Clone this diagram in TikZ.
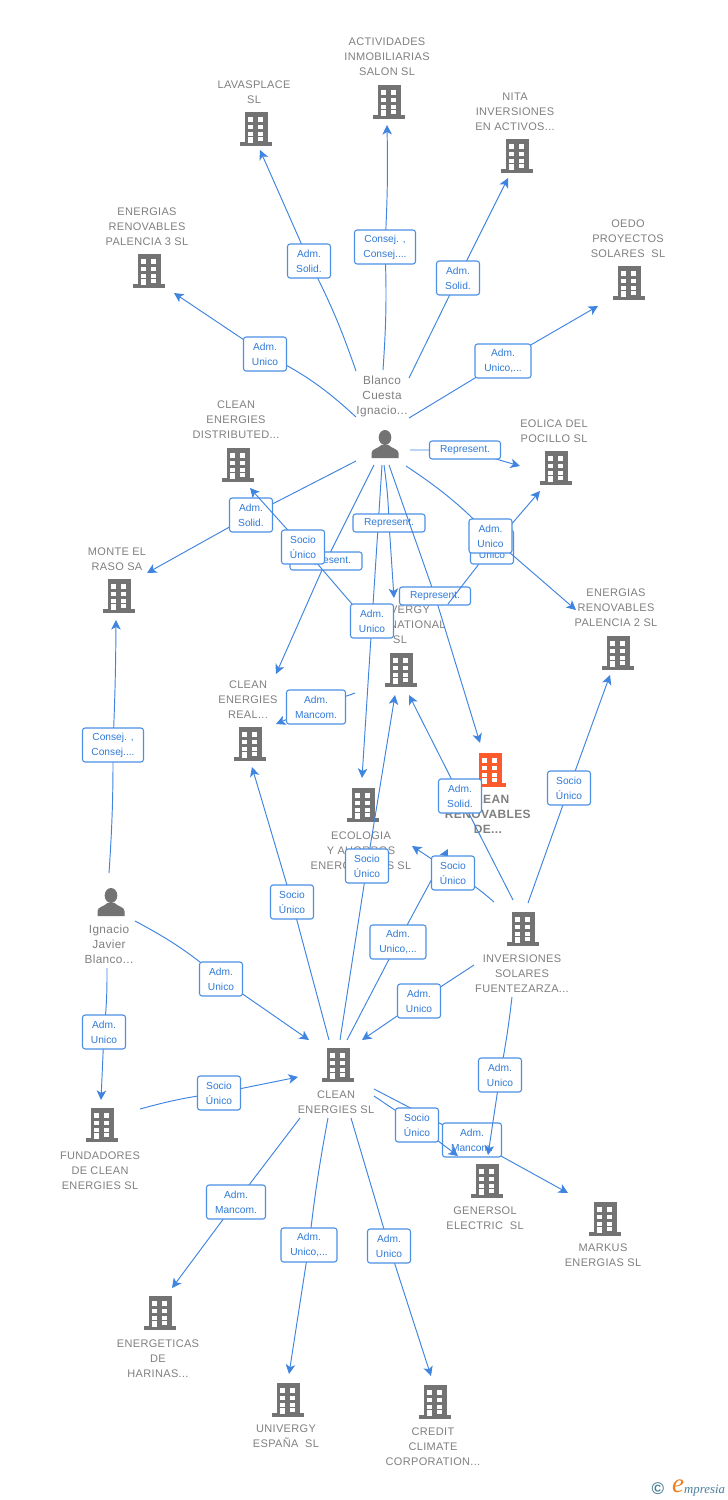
\documentclass[tikz,border=0pt]{standalone}
\usepackage{fontspec}
\setmainfont{Liberation Sans}
\newfontfamily\entfam[LetterSpace=3]{Liberation Sans}
\newfontfamily\logofam{Liberation Serif}
\usetikzlibrary{arrows.meta,calc}
\definecolor{entgray}{HTML}{808080}
\definecolor{icongray}{HTML}{737373}
\definecolor{mainred}{HTML}{FF5A2B}
\definecolor{linkblue}{HTML}{3F85E0}
\definecolor{labborder}{HTML}{4C90E6}
\definecolor{labtext}{HTML}{2F7AD8}
\definecolor{logoteal}{HTML}{4A7F9A}
\definecolor{logoorange}{HTML}{F07F1E}
\tikzset{
  conn/.style={draw=linkblue,line width=0.95pt,-{Stealth[length=9.5pt,width=9.5pt,inset=2.5pt]}},
  lab/.style={draw=labborder,fill=white,line width=1.1pt,rounded corners=2.6pt,text=labtext,inner sep=0pt,
    align=center,minimum width=43pt,minimum height=34pt,font=\fontsize{10.2}{15}\selectfont},
  labone/.style={minimum width=71pt,minimum height=18pt},
  labmid/.style={minimum width=56pt},
  labwide/.style={minimum width=61pt},
  labman/.style={minimum width=59pt},
  enttext/.style={align=center,inner sep=0pt,text=entgray,font=\entfam\fontsize{11}{15}\selectfont},
  hub/.style={inner sep=0pt,minimum size=30pt}
}
\newcommand{\mkbuilding}[5][icongray]{% colour, name, icon pos, text pos, text
  \node[hub] (#2) at (#3) {};
  \begin{scope}[shift={(#2.center)}]
    \fill[#1] (-11.5,-16.7) rectangle (11.5,14);
    \fill[#1] (-16,13) rectangle (16,16.7);
    \foreach \yy in {-11.7,-4.3,2.7}{
      \fill[white] (-7.7,\yy) rectangle +(4.7,4.3);
      \fill[white] (2.2,\yy) rectangle +(4.7,4.3);
    }
    \fill[white] (-7.7,8.2) rectangle (-3,14);
    \fill[white] (2.2,8.2) rectangle (6.9,12);
  \end{scope}
  \node[enttext] (#2T) at (#4) {#5};
}
\newcommand{\mkperson}[4]{% name, icon pos, text pos, text
  \node[hub] (#1) at (#2) {};
  \begin{scope}[shift={(#1.center)}]
    \fill[icongray] (0,-6.5) ellipse (6.3 and 7.5);
    \fill[icongray] (-13.5,14) -- (-13.5,9) .. controls (-13.5,5) and (-7,4.5) .. (-3.5,1) -- (3.5,1)
      .. controls (7,4.5) and (13.5,5) .. (13.5,9) -- (13.5,14) -- cycle;
  \end{scope}
  \node[enttext,font=\entfam\fontsize{11.8}{15}\selectfont] (#1T) at (#3) {#4};
}
% name, label position, label text, label style, start, end, first-segment options, second-segment options
\newcommand{\relbox}[8]{%
  \coordinate (#1c) at (#2);
  \draw[conn] #5 to[#7] (#1c) to[#8] #6;
  \node[lab,#4] (#1) at (#1c) {#3};
}
\begin{document}
\begin{tikzpicture}[x=1pt,y=-1pt]
\useasboundingbox (0,0) rectangle (728,1500);
\fill[white] (0,0) rectangle (728,1500);

\mkbuilding{act}{389,102}{387,57}{ACTIVIDADES\\INMOBILIARIAS\\SALON SL}
\mkbuilding{lav}{256,129}{254,92}{LAVASPLACE\\SL}
\mkbuilding{nit}{517,156}{515,112}{NITA\\INVERSIONES\\EN ACTIVOS...}
\mkbuilding{pt}{149,271}{147,227}{ENERGIAS\\RENOVABLES\\PALENCIA 3 SL}
\mkbuilding{oed}{629,283}{628,239}{OEDO\\PROYECTOS\\SOLARES\ \ SL}
\mkperson{bl}{385,444}{382,396}{Blanco\\Cuesta\\Ignacio...}
\mkbuilding{dis}{238,465}{236,420}{CLEAN\\ENERGIES\\DISTRIBUTED...}
\mkbuilding{eol}{556,468}{554,431}{EOLICA DEL\\POCILLO SL}
\mkbuilding{mon}{119,596}{117,559}{MONTE EL\\RASO SA}
\mkbuilding{uni}{401,670}{400,625}{UNIVERGY\\INTERNATIONAL\\SL}
\mkbuilding{pd}{618,653}{616,608}{ENERGIAS\\RENOVABLES\\PALENCIA 2 SL}
\mkbuilding{rea}{250,744}{248,700}{CLEAN\\ENERGIES\\REAL...}
\mkbuilding[mainred]{ren}{490,770}{488,814}{\fontsize{12}{15}\selectfont\textbf{CLEAN}\\\fontsize{12}{15}\selectfont\textbf{RENOVABLES}\\\fontsize{12}{15}\selectfont\textbf{DE...}}
\mkbuilding{eco}{363,805}{361,851}{ECOLOGIA\\Y AHORROS\\ENERGETICOS SL}
\mkperson{ig}{111,902}{109,944}{Ignacio\\Javier\\Blanco...}
\mkbuilding{inv}{523,929}{522,974}{INVERSIONES\\SOLARES\\FUENTEZARZA...}
\mkbuilding{cl}{338,1065}{336,1102}{CLEAN\\ENERGIES SL}
\mkbuilding{fun}{102,1125}{100,1171}{FUNDADORES\\DE CLEAN\\ENERGIES SL}
\mkbuilding{gen}{487,1181}{485,1218}{GENERSOL\\ELECTRIC\ \ SL}
\mkbuilding{mar}{605,1219}{603,1255}{MARKUS\\ENERGIAS SL}
\mkbuilding{enr}{160,1313}{158,1359}{ENERGETICAS\\DE\\HARINAS...}
\mkbuilding{ues}{288,1400}{286,1436}{UNIVERGY\\ESPAÑA\ \ SL}
\mkbuilding{cre}{435,1402}{433,1447}{CREDIT\\CLIMATE\\CORPORATION...}

\relbox{a1}{309,261}{Adm.\\Solid.}{}{($(bl)+(-29,-73)$)}{($(lav)+(4,21)$)}{bend right=4}{}
\relbox{a2}{385,247}{Consej. ,\\Consej....}{labwide}{($(bl)+(-2,-74)$)}{($(act)+(-2,23)$)}{bend right=3}{bend right=2}
\relbox{a3}{458,278}{Adm.\\Solid.}{}{($(bl)+(24,-66)$)}{($(nit)+(-9,22)$)}{}{}
\relbox{a4}{265,354}{Adm.\\Unico}{}{($(bl)+(-29,-27)$)}{($(pt)+(25,22)$)}{bend right=8}{}
\relbox{a5}{503,361}{Adm.\\Unico,...}{labmid}{($(bl)+(24,-26)$)}{($(oed)+(-31,23)$)}{}{}
\relbox{a6}{465,450}{Represent.}{labone}{($(bl)+(25,6)$)}{($(eol)+(-36,-2)$)}{}{}
\relbox{a7}{251,515}{Adm.\\Solid.}{}{($(bl)+(-29,17)$)}{($(mon)+(28,-23)$)}{}{}
\relbox{a9}{326,561}{Represent.}{labone,minimum width=72pt}{($(bl)+(-11,21)$)}{($(rea)+(26,-70)$)}{}{}
\relbox{a8}{303,547}{Socio\\Único}{minimum width=43pt}{($(uni)+(-49,-66)$)}{($(dis)+(12,23)$)}{}{}
\relbox{a11}{372,621}{Adm.\\Unico}{}{($(bl)+(-3,21)$)}{($(eco)+(-1,-27)$)}{}{}
\relbox{a10}{389,523}{Represent.}{labone,minimum width=72pt}{($(bl)+(-1,21)$)}{($(uni)+(-7,-72)$)}{bend left=3}{}
\relbox{a12}{435,596}{Represent.}{labone}{($(bl)+(4,21)$)}{($(ren)+(-10,-27)$)}{}{}
\relbox{a13}{492,547}{Adm.\\Unico}{}{($(uni)+(47,-66)$)}{($(eol)+(-16,23)$)}{}{}
\relbox{a14}{490.5,536}{Adm.\\Unico}{}{($(bl)+(21,22)$)}{($(pd)+(-42,-43)$)}{bend left=6}{}
\relbox{a15}{316,707}{Adm.\\Mancom.}{labman}{($(uni)+(-46,23)$)}{($(rea)+(26,-20)$)}{}{}
\relbox{a16}{113,745}{Consej. ,\\Consej....}{labwide}{($(ig)+(-2,-29)$)}{($(mon)+(-3,24)$)}{bend right=2}{bend right=1}
\relbox{a17}{460,796}{Adm.\\Solid.}{}{($(inv)+(-10,-29)$)}{($(uni)+(8,25)$)}{}{}
\relbox{a18}{569,788}{Socio\\Único}{minimum width=43pt}{($(inv)+(5,-26)$)}{($(pd)+(-8,22)$)}{}{}
\relbox{a19}{367,866}{Socio\\Único}{minimum width=43pt}{($(cl)+(2,-25)$)}{($(uni)+(-6,25)$)}{}{}
\relbox{a21}{398,942}{Adm.\\Unico,...}{labmid}{($(cl)+(9,-25)$)}{($(ren)+(-42,79)$)}{}{}
\relbox{a20}{453,873}{Socio\\Único}{minimum width=43pt}{($(inv)+(-29,-27)$)}{($(eco)+(49,41)$)}{bend right=6}{}
\relbox{a22}{292,902}{Socio\\Único}{minimum width=43pt}{($(cl)+(-9,-25)$)}{($(rea)+(2,23)$)}{}{}
\relbox{a23}{221,979}{Adm.\\Unico}{}{($(ig)+(24,19)$)}{($(cl)+(-29,-25)$)}{bend left=6}{}
\relbox{a24}{419,1001}{Adm.\\Unico}{}{($(inv)+(-49,36)$)}{($(cl)+(24,-25)$)}{}{}
\relbox{a25}{104,1032}{Adm.\\Unico}{}{($(ig)+(-4,66)$)}{($(fun)+(-1,-25)$)}{bend left=3}{}
\relbox{a26}{219,1093}{Socio\\Único}{minimum width=43pt}{($(fun)+(38,-16)$)}{($(cl)+(-40,12)$)}{bend left=4}{}
\relbox{a27}{472,1140}{Adm.\\Mancom.}{labman}{($(cl)+(36,24)$)}{($(mar)+(-37,-26)$)}{}{}
\relbox{a28}{500,1075}{Adm.\\Unico}{}{($(inv)+(-11,68)$)}{($(gen)+(1,-26)$)}{bend left=2}{}
\relbox{a29}{417,1125}{Socio\\Único}{minimum width=43pt}{($(cl)+(36,31)$)}{($(gen)+(-29,-25)$)}{}{}
\relbox{a30}{236,1202}{Adm.\\Mancom.}{labman}{($(cl)+(-38,53)$)}{($(enr)+(12,-25)$)}{}{}
\relbox{a31}{309,1245}{Adm.\\Unico,...}{labmid}{($(cl)+(-10,53)$)}{($(ues)+(1,-26)$)}{bend right=2}{}
\relbox{a32}{389,1246}{Adm.\\Unico}{}{($(cl)+(13,53)$)}{($(cre)+(-4,-26)$)}{}{}

\node[inner sep=0pt,text=logoteal,font=\bfseries\fontsize{17}{17}\selectfont] (logoc) at (658,1489) {©};
\node[inner sep=0pt,text=logoorange,font=\logofam\itshape\fontsize{27}{27}\selectfont] (logoe) at (678,1486) {e};
\node[inner sep=0pt,anchor=west,text=logoteal,font=\logofam\itshape\fontsize{12.8}{14}\selectfont] (logom) at (684,1491) {mpresia};
\end{tikzpicture}
\end{document}
